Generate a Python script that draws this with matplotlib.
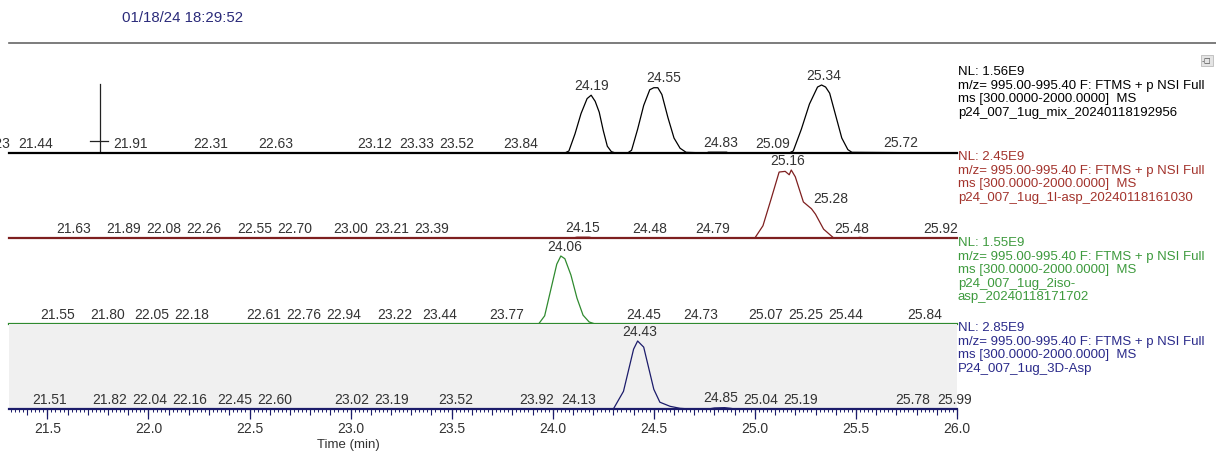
import numpy as np
import matplotlib.pyplot as plt
from matplotlib.ticker import MultipleLocator, FormatStrFormatter
from matplotlib.patches import Rectangle

plt.rcParams['font.family'] = ['Liberation Sans', 'DejaVu Sans']
plt.rcParams['font.size'] = 9.5

W, H = 1216, 452

# chromatogram traces (time in min, relative intensity)
mix_t = [21.31, 24.06, 24.08, 24.11, 24.14, 24.17, 24.19, 24.21, 24.23, 24.25, 24.27, 24.29, 24.31,
         24.37, 24.39, 24.42, 24.45, 24.48, 24.50, 24.52, 24.54, 24.57, 24.60, 24.63, 24.66,
         24.76, 24.77, 24.86, 24.87, 25.17, 25.19, 25.23, 25.27, 25.31, 25.33, 25.35, 25.37,
         25.40, 25.43, 25.46, 25.48, 26.0]
mix_i = [0, 0, 0.03, 0.28, 0.58, 0.80, 0.85, 0.76, 0.60, 0.33, 0.10, 0.02, 0,
         0, 0.04, 0.35, 0.70, 0.93, 0.96, 0.96, 0.86, 0.52, 0.22, 0.07, 0.01,
         0, 0.012, 0.012, 0, 0, 0.03, 0.35, 0.72, 0.97, 1.0, 0.97, 0.88,
         0.55, 0.22, 0.05, 0.01, 0]
mix_labels = [21.23, 21.44, 21.91, 22.31, 22.63, 23.12, 23.33, 23.52, 23.84, 24.19, 24.55,
              24.83, 25.09, 25.34, 25.72]

lasp_t = [21.31, 24.10, 24.12, 24.18, 24.20, 25.00, 25.04, 25.08, 25.12, 25.15, 25.17, 25.18,
          25.20, 25.24, 25.28, 25.30, 25.34, 25.39, 25.50, 25.52, 25.55, 26.0]
lasp_i = [0, 0, 0.012, 0.012, 0, 0, 0.18, 0.57, 0.97, 0.98, 0.93, 1.0,
          0.90, 0.53, 0.43, 0.35, 0.13, 0, 0, 0.01, 0, 0]
lasp_labels = [21.63, 21.89, 22.08, 22.26, 22.55, 22.70, 23.00, 23.21, 23.39, 24.15, 24.48,
               24.79, 25.16, 25.28, 25.48, 25.92]

iso_t = [21.31, 23.93, 23.96, 23.99, 24.02, 24.04, 24.06, 24.09, 24.12, 24.15, 24.18, 24.21, 26.0]
iso_i = [0, 0, 0.12, 0.50, 0.88, 1.0, 0.96, 0.72, 0.38, 0.13, 0.03, 0, 0]
iso_labels = [21.55, 21.80, 22.05, 22.18, 22.61, 22.76, 22.94, 23.22, 23.44, 23.77, 24.06,
              24.45, 24.73, 25.07, 25.25, 25.44, 25.84]

d_t = [21.31, 24.30, 24.35, 24.40, 24.42, 24.45, 24.50, 24.53, 24.58, 24.63, 24.68,
       24.77, 24.80, 24.85, 24.88, 24.90, 26.0]
d_i = [0, 0, 0.26, 0.88, 1.0, 0.91, 0.29, 0.10, 0.04, 0.01, 0,
       0, 0.015, 0.02, 0.01, 0, 0]
d_labels = [21.51, 21.82, 22.04, 22.16, 22.45, 22.60, 23.02, 23.19, 23.52, 23.92, 24.13,
            24.43, 24.85, 25.04, 25.19, 25.78, 25.99]

header = 'm/z= 995.00-995.40 F: FTMS + p NSI Full\nms [300.0000-2000.0000]  MS\n'
panels = [
    (mix_t, mix_i, mix_labels, 'NL: 1.56E9\n' + header + 'p24_007_1ug_mix_20240118192956',
     '#000000', '#000000', 154),
    (lasp_t, lasp_i, lasp_labels, 'NL: 2.45E9\n' + header + 'p24_007_1ug_1l-asp_20240118161030',
     '#7e1f1f', '#a3332c', 239),
    (iso_t, iso_i, iso_labels, 'NL: 1.55E9\n' + header + 'p24_007_1ug_2iso-\nasp_20240118171702',
     '#2f8a2f', '#3d9a3d', 325),
    (d_t, d_i, d_labels, 'NL: 2.85E9\n' + header + 'P24_007_1ug_3D-Asp',
     '#1c1c6b', '#2a2a8a', 410),
]
label_shift = {25.28: 0.095}   # shoulder label sits right of the trace
cursor_time = 21.76

xmin, xmax = 21.31, 26.0
x0, x1 = 9, 957
px_per_min = (x1 - x0) / (xmax - xmin)
min_gap = 40 / px_per_min      # labels are pushed apart like the instrument software does


def spread(xs, gap):
    xs = list(xs)
    for _ in range(60):
        moved = False
        for j in range(len(xs) - 1):
            d = xs[j + 1] - xs[j]
            if d < gap:
                push = (gap - d) / 2
                xs[j] -= push
                xs[j + 1] += push
                moved = True
        if not moved:
            break
    return xs


fig = plt.figure(figsize=(W / 100, H / 100), dpi=100)
panel_h = 85
axes = []
for k, (t, inten, labs, nl, lc, tc, base) in enumerate(panels):
    ax = fig.add_axes([x0 / W, 1 - base / H, (x1 - x0) / W, panel_h / H])
    ax.set_xlim(xmin, xmax)
    ax.set_ylim(0, panel_h / 68)
    for s in ['top', 'left', 'right']:
        ax.spines[s].set_visible(False)
    ax.spines['bottom'].set_color(lc)
    ax.spines['bottom'].set_linewidth(1.6)
    ax.set_yticks([])
    if k == 3:
        ax.set_facecolor('#f0f0f0')
    else:
        ax.patch.set_alpha(0)
    ax.plot(t, inten, color=lc, lw=0.9, clip_on=False)
    tt = np.array(t)
    ii = np.array(inten)
    ys = []
    for lt in labs:
        near = ii[(tt >= lt - 0.03) & (tt <= lt + 0.03)]
        yv = max(np.interp(lt, tt, ii), near.max() if near.size else 0)
        if lt in label_shift:
            yv = np.interp(lt, tt, ii)
        ys.append(yv)
    # baseline labels get spread horizontally to avoid overlap
    low = [lt for lt, yv in zip(labs, ys) if yv < 0.1]
    low_x = dict(zip(low, spread(low, min_gap)))
    for lt, yv in zip(labs, ys):
        xp = low_x.get(lt, lt) + label_shift.get(lt, 0)
        ax.annotate(f'{lt:.2f}', (xp, yv), xytext=(0, 2.5), textcoords='offset points',
                    ha='center', va='bottom', color='#333333', fontsize=10,
                    annotation_clip=False)
    fig.text((x1 + 1) / W, 1 - (base - panel_h - 3) / H, nl, color=tc, fontsize=9.5,
             va='top', ha='left', linespacing=1.18)
    axes.append(ax)

# cursor cross in the first panel
ax = axes[0]
ax.plot([cursor_time, cursor_time], [0, 69 / 68], color='#222222', lw=0.9)
ax.plot([cursor_time - 0.05, cursor_time + 0.04], [12 / 68, 12 / 68], color='#222222', lw=0.9)

for ax in axes[:3]:
    ax.set_xticks([])
    ax.tick_params(axis='x', which='both', length=0)

ax = axes[3]
ax.xaxis.set_major_locator(MultipleLocator(0.5))
ax.xaxis.set_major_formatter(FormatStrFormatter('%.1f'))
ax.xaxis.set_minor_locator(MultipleLocator(0.02))
ax.tick_params(axis='x', which='major', length=7, width=0.9, color='#1c1c6b',
               labelsize=10, labelcolor='#333333', pad=2)
ax.tick_params(axis='x', which='minor', length=2.5, width=0.7, color='#1c1c6b')
sec = ax.secondary_xaxis('bottom')
sec.set_xticks(np.arange(21.4, 26.01, 0.1))
sec.tick_params(length=4.5, width=0.8, color='#1c1c6b', labelbottom=False)
sec.spines['bottom'].set_visible(False)
ax.text(22.99, -0.52, 'Time (min)', ha='center', va='center', fontsize=9.5, color='#333333')

# header
fig.text(122 / W, 1 - 18 / H, '01/18/24 18:29:52', color='#2b2b7a', fontsize=10.8, va='center')
fig.add_artist(plt.Line2D([9 / W, 1], [1 - 44 / H, 1 - 44 / H], color='#666666', lw=1.2))
fig.add_artist(Rectangle((1201 / W, 1 - 67 / H), 12 / W, 11 / H, facecolor='#e4e4e4',
                         edgecolor='#bbbbbb', lw=0.6))
fig.text(1207 / W, 1 - 61.5 / H, '-◻', fontsize=6, ha='center', va='center', color='#444444')

fig.savefig('out.png', dpi=100)
